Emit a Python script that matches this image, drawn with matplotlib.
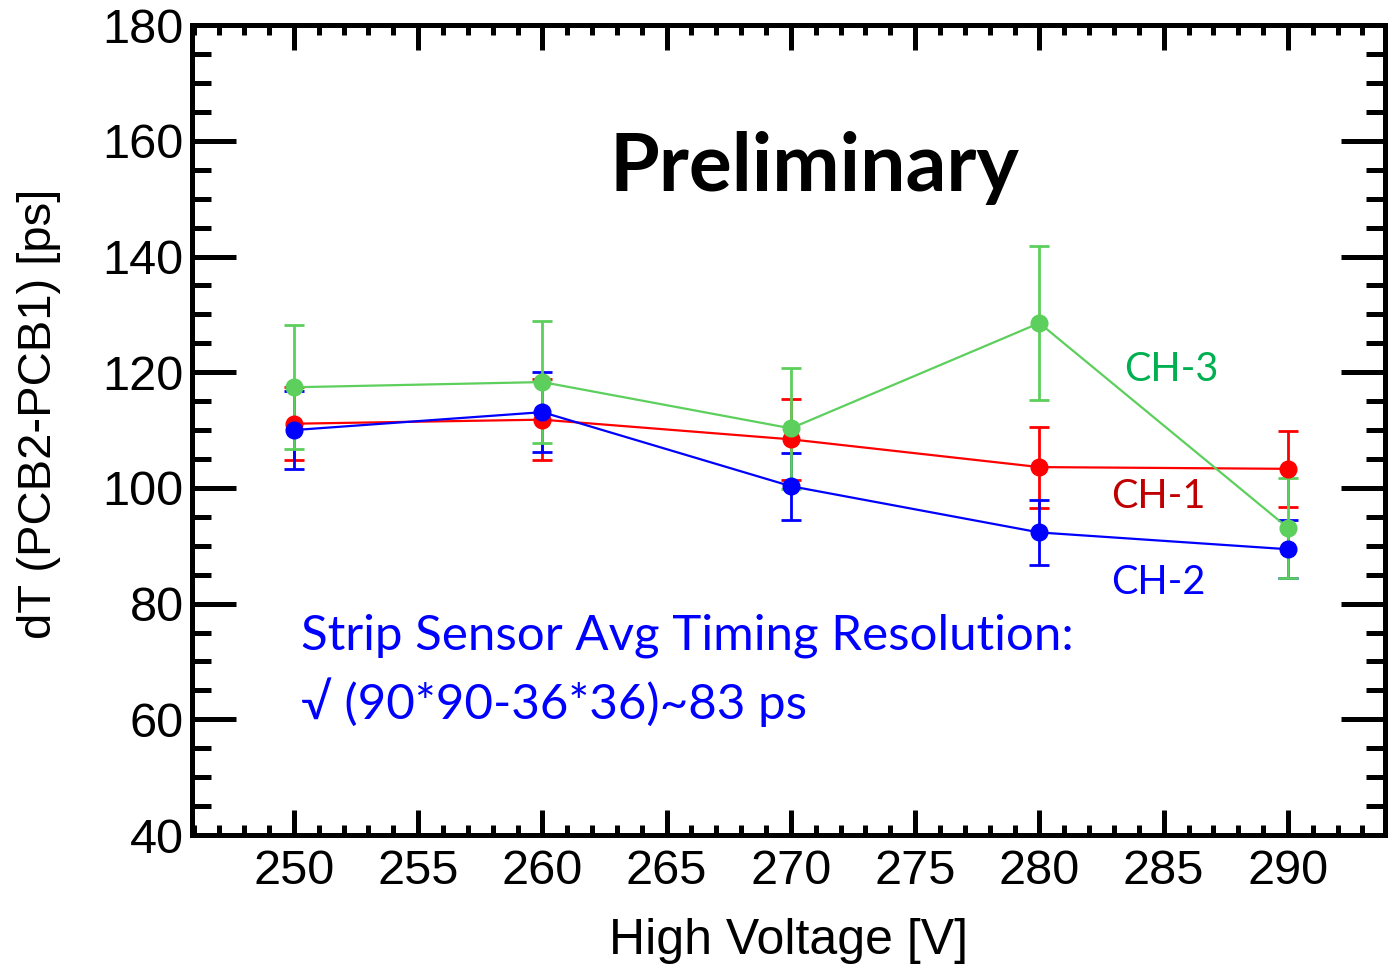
import numpy as np
import matplotlib
matplotlib.use('Agg')
import matplotlib.pyplot as plt
from matplotlib.ticker import MultipleLocator

# timing resolution vs bias voltage, three strip channels
hv = [250, 260, 270, 280, 290]

ch1 = [111.1, 111.8, 108.4, 103.6, 103.3]
ch1_err = [6.3, 7.0, 7.0, 7.0, 6.6]

ch2 = [110.0, 113.1, 100.3, 92.3, 89.4]
ch2_err = [6.8, 6.9, 5.8, 5.6, 5.0]

ch3 = [117.4, 118.3, 110.3, 128.5, 93.1]
ch3_err = [10.7, 10.6, 10.5, 13.3, 8.7]

plt.rcParams['font.family'] = ['Liberation Sans', 'DejaVu Sans']

fig = plt.figure(figsize=(13.96, 9.67), dpi=100)
ax = fig.add_axes([0.1375, 0.1365, 0.8545, 0.8375])

def draw(y, e, col):
    ax.errorbar(hv, y, yerr=e, color=col, lw=1.6, elinewidth=2.0,
                capsize=7, capthick=2.0, marker='o', ms=12, mec=col, mfc=col)

draw(ch1, ch1_err, '#ff0000')
draw(ch2, ch2_err, '#0000ff')
draw(ch3, ch3_err, '#5ccf5c')

ax.set_xlim(245.9, 293.9)
ax.set_ylim(40, 180)
ax.xaxis.set_major_locator(MultipleLocator(5))
ax.xaxis.set_minor_locator(MultipleLocator(1))
ax.yaxis.set_major_locator(MultipleLocator(20))
ax.yaxis.set_minor_locator(MultipleLocator(5))
ax.set_xticks([250, 255, 260, 265, 270, 275, 280, 285, 290])

for s in ax.spines.values():
    s.set_linewidth(3.6)
ax.tick_params(which='both', direction='in', top=True, right=True, width=3.6)
ax.tick_params(axis='x', which='major', length=18, labelsize=35, pad=10)
ax.tick_params(axis='x', which='minor', length=7)
ax.tick_params(axis='y', which='major', length=32, labelsize=35, pad=6)
ax.tick_params(axis='y', which='minor', length=14)

ax.set_xlabel('High Voltage [V]', fontsize=36)
ax.set_ylabel('dT (PCB2-PCB1) [ps]', fontsize=34)
ax.xaxis.set_label_coords(0.5, -0.103)
ax.yaxis.set_label_coords(-0.110, 0.52)

ax.text(270.96, 155.3, 'Preliminary', fontsize=58, fontweight='bold',
        family='Lato', ha='center', va='center', color='black')
ax.text(250.3, 74.4, 'Strip Sensor Avg Timing Resolution:', fontsize=35.5,
        family=['Lato', 'DejaVu Sans'], color='#0000ff', va='center')
ax.text(250.3, 63.0, '\u221a (90*90-36*36)~83 ps', fontsize=35.5,
        family=['Lato', 'DejaVu Sans'], color='#0000ff', va='center')

ax.text(283.4, 120.4, 'CH-3', fontsize=28.5, family='Lato', color='#00b050', va='center')
ax.text(282.9, 98.5, 'CH-1', fontsize=28.5, family='Lato', color='#c00000', va='center')
ax.text(282.9, 83.7, 'CH-2', fontsize=28.5, family='Lato', color='#0000ff', va='center')

fig.savefig('out.png', dpi=100)
